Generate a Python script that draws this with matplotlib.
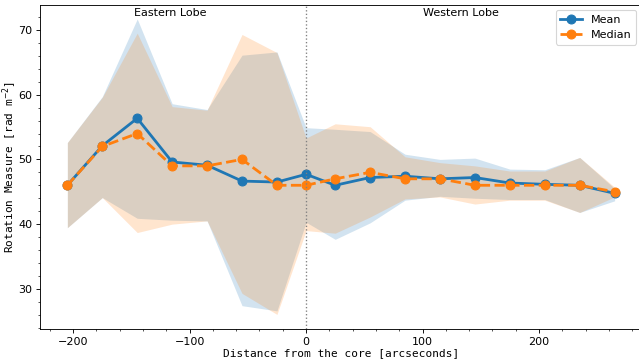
import numpy as np
import matplotlib
matplotlib.use("Agg")
import matplotlib.pyplot as plt

# distancia ao nucleo (arcsec), negativo = lobo leste
dist = [-205, -175, -145, -115, -85, -55, -25, 0, 25, 55, 85, 115, 145, 175, 205, 235, 265]

rm_mean = [46.0, 52.1, 56.35, 49.6, 49.1, 46.65, 46.5, 47.7, 46.0, 47.2, 47.4, 47.0, 47.2, 46.35, 46.15, 46.0, 44.75]
rm_median = [46.0, 52.0, 54.0, 49.0, 49.0, 50.0, 46.0, 46.0, 47.0, 48.0, 47.0, 47.0, 46.0, 46.0, 46.0, 46.0, 45.0]

# faixas de dispersao
mean_up = [52.6, 59.7, 71.7, 58.6, 57.7, 66.1, 66.6, 54.9, 54.65, 54.3, 50.8, 50.0, 50.2, 48.5, 48.4, 50.3, 45.5]
mean_lo = [39.45, 44.1, 40.9, 40.6, 40.5, 27.4, 26.6, 40.3, 37.65, 40.2, 43.7, 44.3, 44.0, 43.8, 43.8, 41.8, 43.6]
median_up = [52.6, 59.6, 69.5, 58.15, 57.6, 69.3, 66.5, 53.3, 55.5, 55.05, 50.4, 49.5, 49.0, 48.2, 48.2, 50.3, 45.7]
median_lo = [39.45, 44.1, 38.7, 40.0, 40.5, 29.3, 26.05, 39.0, 38.6, 41.1, 43.9, 44.2, 43.1, 43.7, 43.7, 41.8, 44.2]

fig = plt.figure(figsize=(639/80., 364/80.), dpi=80)
ax = fig.add_axes([0.0626, 0.0962, 0.9421, 0.8909])

ax.fill_between(dist, mean_lo, mean_up, color='C0', alpha=0.2, lw=0)
ax.fill_between(dist, median_lo, median_up, color='C1', alpha=0.2, lw=0)

ax.plot(dist, rm_mean, '-o', color='C0', lw=2.5, ms=8, label='Mean')
ax.plot(dist, rm_median, '--o', color='C1', lw=2.5, ms=8, label='Median')

ax.axvline(0, color='gray', ls=':', lw=1.2)

ax.text(-117, 72.6, 'Eastern Lobe', ha='center', va='center', fontsize=10)
ax.text(133, 72.6, 'Western Lobe', ha='center', va='center', fontsize=10)

ax.set_xlim(-228.5, 288.5)
ax.set_ylim(23.8, 73.9)
ax.minorticks_on()

ax.set_xlabel('Distance from the core [arcseconds]', family='monospace', fontsize=10, labelpad=1)
ax.set_ylabel(r'Rotation Measure [rad m$^{-2}$]', family='monospace', fontsize=10, labelpad=-0.5)
ax.legend(loc='upper right', fontsize=10)

plt.savefig('out.png', dpi=80)
plt.close()
